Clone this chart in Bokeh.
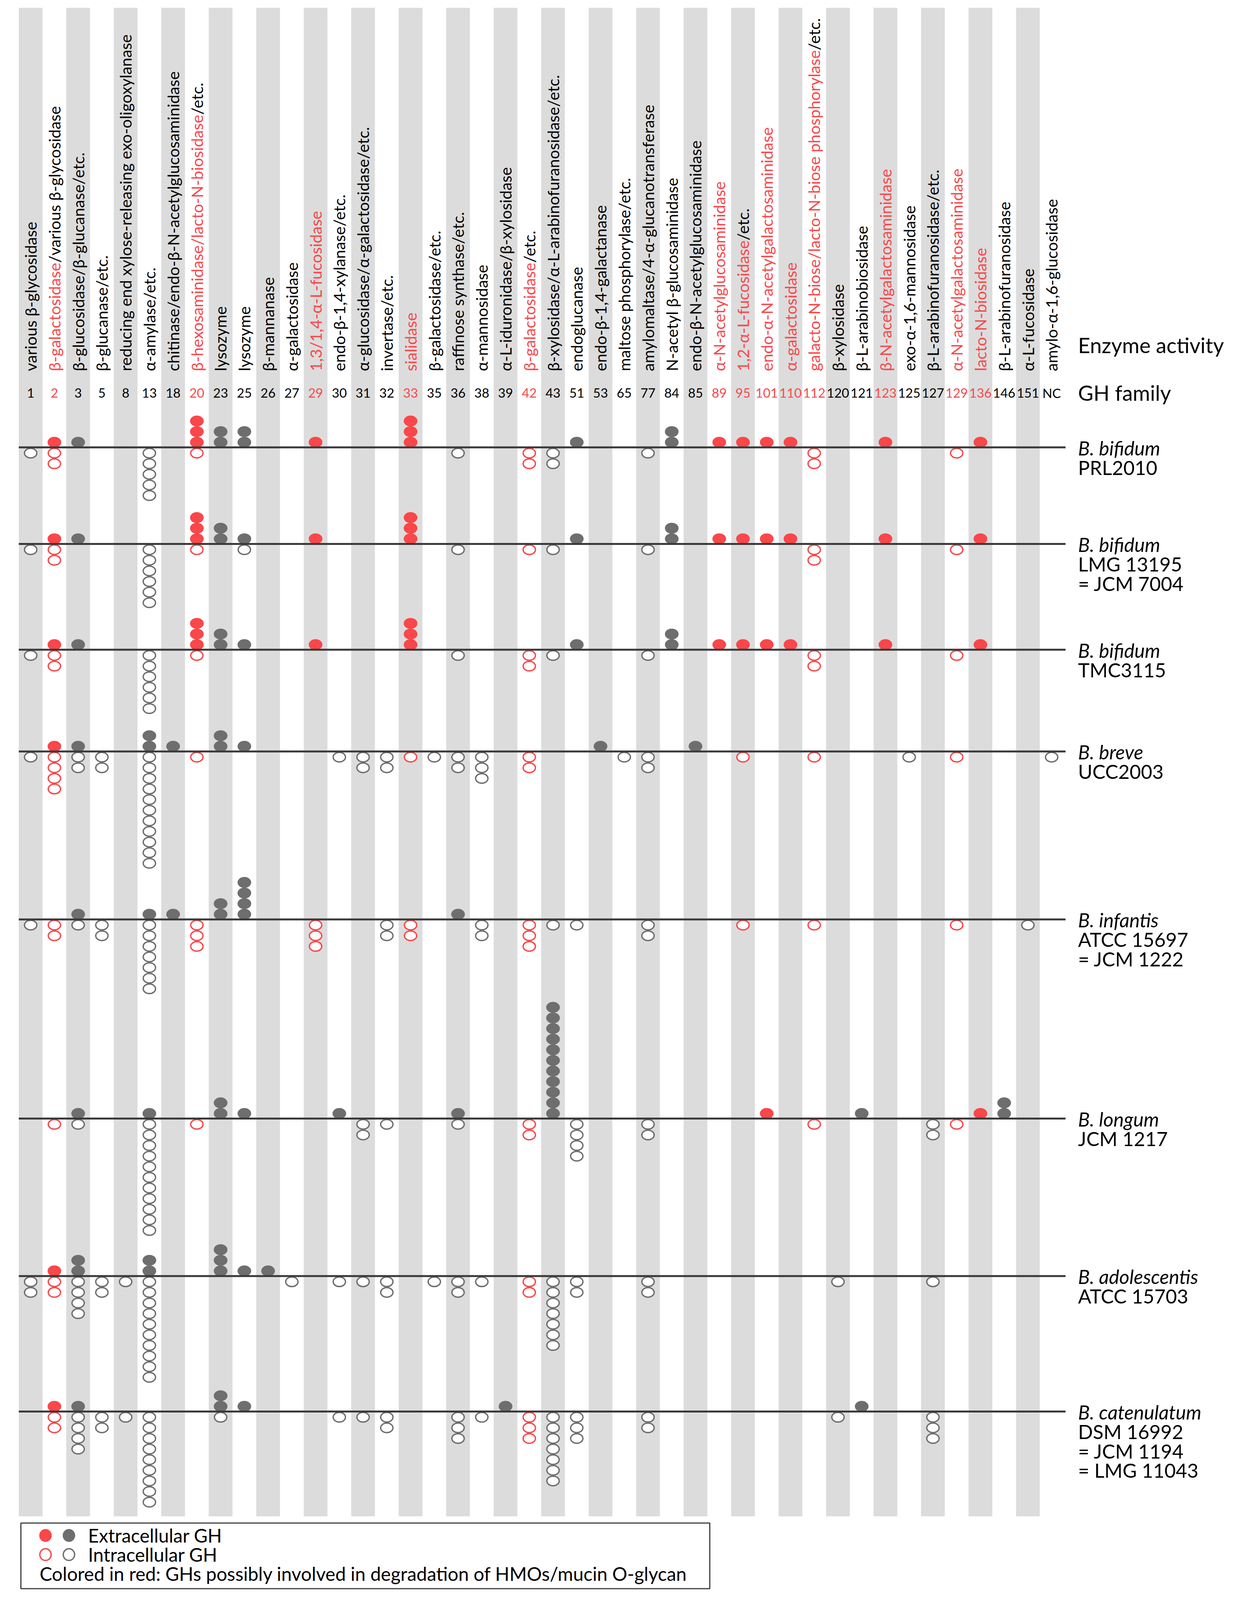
import math
from bokeh.plotting import figure
from bokeh.models import Range1d, ColumnDataSource, CustomJSTransform
from bokeh.transform import transform
from bokeh.core.properties import value
from bokeh.embed import file_html
from bokeh.resources import INLINE

# ---------------- data ----------------
GH = ["1", "2", "3", "5", "8", "13", "18", "20", "23", "25", "26", "27", "29", "30", "31",
      "32", "33", "35", "36", "38", "39", "42", "43", "51", "53", "65", "77", "84", "85",
      "89", "95", "101", "110", "112", "120", "121", "123", "125", "127", "129", "136",
      "146", "151", "NC"]

ACTIVITY = [
    "various β-glycosidase",
    "β-galactosidase/various β-glycosidase",
    "β-glucosidase/β-glucanase/etc.",
    "β-glucanase/etc.",
    "reducing end xylose-releasing exo-oligoxylanase",
    "α-amylase/etc.",
    "chitinase/endo-β-N-acetylglucosaminidase",
    "β-hexosaminidase/lacto-N-biosidase/etc.",
    "lysozyme",
    "lysozyme",
    "β-mannanase",
    "α-galactosidase",
    "1,3/1,4-α-L-fucosidase",
    "endo-β-1,4-xylanase/etc.",
    "α-glucosidase/α-galactosidase/etc.",
    "invertase/etc.",
    "sialidase",
    "β-galactosidase/etc.",
    "raffinose synthase/etc.",
    "α-mannosidase",
    "α-L-iduronidase/β-xylosidase",
    "β-galactosidase/etc.",
    "β-xylosidase/α-L-arabinofuranosidase/etc.",
    "endoglucanase",
    "endo-β-1,4-galactanase",
    "maltose phosphorylase/etc.",
    "amylomaltase/4-α-glucanotransferase",
    "N-acetyl β-glucosaminidase",
    "endo-β-N-acetylglucosaminidase",
    "α-N-acetylglucosaminidase",
    "1,2-α-L-fucosidase/etc.",
    "endo-α-N-acetylgalactosaminidase",
    "α-galactosidase",
    "galacto-N-biose/lacto-N-biose phosphorylase/etc.",
    "β-xylosidase",
    "β-L-arabinobiosidase",
    "β-N-acetylgalactosaminidase",
    "exo-α-1,6-mannosidase",
    "β-L-arabinofuranosidase/etc.",
    "α-N-acetylgalactosaminidase",
    "lacto-N-biosidase",
    "β-L-arabinofuranosidase",
    "α-L-fucosidase",
    "amylo-α-1,6-glucosidase",
]

# part of the activity label (from its start) that is coloured red
RED_PART = {
    "2": "β-galactosidase",
    "20": "β-hexosaminidase/lacto-N-biosidase",
    "29": "1,3/1,4-α-L-fucosidase",
    "33": "sialidase",
    "42": "β-galactosidase",
    "89": "α-N-acetylglucosaminidase",
    "95": "1,2-α-L-fucosidase",
    "101": "endo-α-N-acetylgalactosaminidase",
    "110": "α-galactosidase",
    "112": "galacto-N-biose/lacto-N-biose phosphorylase",
    "123": "β-N-acetylgalactosaminidase",
    "129": "α-N-acetylgalactosaminidase",
    "136": "lacto-N-biosidase",
}
RED_GH = list(RED_PART.keys())

SPECIES = ["B. bifidum", "B. bifidum", "B. bifidum", "B. breve", "B. infantis",
           "B. longum", "B. adolescentis", "B. catenulatum"]
STRAIN_IDS = [
    ["PRL2010"],
    ["LMG 13195", "= JCM 7004"],
    ["TMC3115"],
    ["UCC2003"],
    ["ATCC 15697", "= JCM 1222"],
    ["JCM 1217"],
    ["ATCC 15703"],
    ["DSM 16992", "= JCM 1194", "= LMG 11043"],
]

# number of GH genes: extracellular (filled) / intracellular (open)
prl2010_ext = {"2": 1, "3": 1, "20": 3, "23": 2, "25": 2, "29": 1, "33": 3, "51": 1, "84": 2,
               "89": 1, "95": 1, "101": 1, "110": 1, "123": 1, "136": 1}
prl2010_int = {"1": 1, "2": 2, "13": 5, "20": 1, "36": 1, "42": 2, "43": 2, "77": 1, "112": 2,
               "129": 1}
lmg13195_ext = {"2": 1, "3": 1, "20": 3, "23": 2, "25": 1, "29": 1, "33": 3, "51": 1, "84": 2,
                "89": 1, "95": 1, "101": 1, "110": 1, "123": 1, "136": 1}
lmg13195_int = {"1": 1, "2": 2, "13": 6, "20": 1, "25": 1, "36": 1, "42": 1, "43": 1, "77": 1,
                "112": 2, "129": 1}
tmc3115_ext = {"2": 1, "3": 1, "20": 3, "23": 2, "25": 1, "29": 1, "33": 3, "51": 1, "84": 2,
               "89": 1, "95": 1, "101": 1, "110": 1, "123": 1, "136": 1}
tmc3115_int = {"1": 1, "2": 2, "13": 6, "20": 1, "36": 1, "42": 2, "43": 1, "77": 1, "112": 2,
               "129": 1}
ucc2003_ext = {"2": 1, "3": 1, "13": 2, "18": 1, "23": 2, "25": 1, "53": 1, "85": 1}
ucc2003_int = {"1": 1, "2": 4, "3": 2, "5": 2, "13": 11, "20": 1, "30": 1, "31": 2, "32": 2,
               "33": 1, "35": 1, "36": 2, "38": 3, "42": 2, "65": 1, "77": 2, "95": 1, "112": 1,
               "125": 1, "129": 1, "NC": 1}
atcc15697_ext = {"3": 1, "13": 1, "18": 1, "23": 2, "25": 4, "36": 1}
atcc15697_int = {"1": 1, "2": 2, "3": 1, "5": 2, "13": 7, "20": 3, "29": 3, "32": 2, "33": 2,
                 "38": 2, "42": 3, "43": 1, "51": 1, "77": 2, "95": 1, "112": 1, "129": 1,
                 "151": 1}
jcm1217_ext = {"3": 1, "13": 1, "23": 2, "25": 1, "30": 1, "36": 1, "43": 11, "101": 1,
               "121": 1, "136": 1, "146": 2}
jcm1217_int = {"2": 1, "3": 1, "13": 11, "20": 1, "31": 2, "32": 1, "36": 1, "42": 2, "51": 4,
               "77": 2, "112": 1, "127": 2, "129": 1}
atcc15703_ext = {"2": 1, "3": 2, "13": 2, "23": 3, "25": 1, "26": 1}
atcc15703_int = {"1": 2, "2": 2, "3": 4, "5": 2, "8": 1, "13": 10, "27": 1, "30": 1, "31": 1,
                 "32": 2, "35": 1, "36": 2, "38": 1, "42": 2, "43": 7, "51": 2, "77": 2,
                 "120": 1, "127": 1}
dsm16992_ext = {"2": 1, "3": 1, "23": 2, "25": 1, "39": 1, "121": 1}
dsm16992_int = {"2": 2, "3": 4, "5": 2, "8": 1, "13": 9, "23": 1, "30": 1, "31": 1, "32": 2,
                "36": 3, "38": 1, "42": 3, "43": 7, "51": 3, "77": 2, "120": 1, "127": 3}

EXT = [prl2010_ext, lmg13195_ext, tmc3115_ext, ucc2003_ext, atcc15697_ext, jcm1217_ext,
       atcc15703_ext, dsm16992_ext]
INT = [prl2010_int, lmg13195_int, tmc3115_int, ucc2003_int, atcc15697_int, jcm1217_int,
       atcc15703_int, dsm16992_int]

LEGEND_TEXT = ["Extracellular GH", "Intracellular GH",
               "Colored in red: GHs possibly involved in degradation of HMOs/mucin O-glycan"]

# ---------------- layout / style ----------------
RED = "#F9474A"
GREY = "#6E6E6E"
STRIPE = "#DCDCDC"
RULE = "#3A3A3A"
FONT = "Lato"
W, H = 3172, 4078                # figure size in screen px
Y_SPAN = 4998                    # layout units spanned vertically
KY = H / Y_SPAN                  # screen px per vertical layout unit
X0, PITCH = 86.0, 60.8           # layout x of first column centre, column pitch
LINE_Y = [1411, 1714, 2046, 2365, 2892, 3517, 4011, 4436]
DOT_STEP = 33.3
DOT_W, DOT_H = 35.0, 28.0        # screen px
LABEL_BASE = 1172
LABEL_SIZE = 41
NUM_Y = 1240
LABEL_X = 2768


def cx(px):
    return (px - X0) / PITCH


p = figure(width=W, height=H, output_backend="svg", toolbar_location=None,
           x_range=Range1d(cx(8), cx(8 + W)), y_range=Range1d(8 + Y_SPAN, 8),
           x_axis_type=None, y_axis_type=None, min_border=0,
           background_fill_color="white", border_fill_color="white")
p.grid.visible = False
p.outline_line_color = None

ncol = len(GH)
idx = list(range(ncol))

# alternating stripes
gray_cols = [i for i in idx if i % 2 == 0]
p.quad(left=[i - 0.5 for i in gray_cols], right=[i + 0.5 for i in gray_cols],
       top=32, bottom=4765, fill_color=STRIPE, line_color=None)

# GH family numbers
p.text(x=idx, y=[NUM_Y] * ncol, text=GH,
       text_color=[RED if g in RED_GH else "black" for g in GH],
       text_font=value(FONT), text_font_size="33px", text_align="center",
       text_baseline="middle")
p.text(x=[cx(LABEL_X)] * 2, y=[NUM_Y, 1090], text=["GH family", "Enzyme activity"],
       text_font=value(FONT), text_font_size="54px", text_align="left",
       text_baseline="middle", text_color="black")

# activity labels (rotated): red prefix + black remainder
red_x, red_t = [], []
blk_x, blk_t, blk_pre = [], [], []
for i, (g, lab) in enumerate(zip(GH, ACTIVITY)):
    pre = RED_PART.get(g, "")
    if pre:
        red_x.append(i)
        red_t.append(pre)
    rest = lab[len(pre):]
    if rest:
        blk_x.append(i)
        blk_t.append(rest)
        blk_pre.append(pre)

p.text(x=red_x, y=[LABEL_BASE] * len(red_x), text=red_t, angle=math.pi / 2,
       text_color=RED, text_font=value(FONT), text_font_size=f"{LABEL_SIZE}px",
       text_align="left", text_baseline="middle")

blk_src = ColumnDataSource(dict(x=blk_x, text=blk_t, prefix=blk_pre,
                                base=[LABEL_BASE] * len(blk_x)))
measure = CustomJSTransform(args=dict(src=blk_src, font=f"{LABEL_SIZE}px {FONT}", ky=KY),
                            v_func="""
    const cv = document.createElement('canvas').getContext('2d');
    cv.font = font;
    const pre = src.data['prefix'];
    const out = new Array(xs.length);
    for (let i = 0; i < xs.length; i++) {
        out[i] = pre[i] ? xs[i] - cv.measureText(pre[i]).width / ky : xs[i];
    }
    return out;
""")
p.text(x="x", y=transform("base", measure), text="text", source=blk_src, angle=math.pi / 2,
       text_color="black", text_font=value(FONT), text_font_size=f"{LABEL_SIZE}px",
       text_align="left", text_baseline="middle")

# GH dots
fx, fy, fc, ox, oy, oc = [], [], [], [], [], []
for r, (ext, inn) in enumerate(zip(EXT, INT)):
    base = LINE_Y[r]
    for g, n in ext.items():
        c = GH.index(g)
        for k in range(n):
            fx.append(c)
            fy.append(base - 16 - DOT_STEP * k)
            fc.append(RED if g in RED_GH else GREY)
    for g, n in inn.items():
        c = GH.index(g)
        for k in range(n):
            ox.append(c)
            oy.append(base + 18 + DOT_STEP * k)
            oc.append(RED if g in RED_GH else GREY)

p.ellipse(x=fx, y=fy, width=DOT_W / PITCH, height=DOT_H / KY, fill_color=fc, line_color=None)
p.ellipse(x=ox, y=oy, width=(DOT_W - 3.5) / PITCH, height=(DOT_H - 3.5) / KY,
          fill_color="white", line_color=oc, line_width=3.5)

# strain rules and labels
p.segment(x0=[-0.5] * len(LINE_Y), x1=[cx(2736)] * len(LINE_Y), y0=LINE_Y, y1=LINE_Y,
          line_color=RULE, line_width=5)
p.text(x=[cx(LABEL_X)] * len(SPECIES), y=[y + 2 for y in LINE_Y], text=SPECIES,
       text_font=value(FONT), text_font_size="50px", text_font_style="italic",
       text_align="left", text_baseline="alphabetic", text_color="black")
sx, sy, st = [], [], []
for r, ids in enumerate(STRAIN_IDS):
    for k, s in enumerate(ids):
        sx.append(cx(LABEL_X))
        sy.append(LINE_Y[r] + 2 + 61 * (k + 1))
        st.append(s)
p.text(x=sx, y=sy, text=st, text_font=value(FONT), text_font_size="50px",
       text_align="left", text_baseline="alphabetic", text_color="black")

# legend box
p.quad(left=[cx(61)], right=[cx(1825)], top=[4786], bottom=[4992], fill_color="white",
       line_color="#404040", line_width=3)
p.ellipse(x=[cx(124), cx(184)], y=[4825, 4825], width=32 / PITCH, height=33 / KY,
          fill_color=[RED, GREY], line_color=None)
p.ellipse(x=[cx(124), cx(184)], y=[4885, 4885], width=29 / PITCH, height=30 / KY,
          fill_color="white", line_color=[RED, GREY], line_width=3.5)
p.text(x=[cx(233), cx(233), cx(109)], y=[4825, 4885, 4945], text=LEGEND_TEXT,
       text_font=value(FONT), text_font_size="48px", text_align="left",
       text_baseline="middle", text_color="black")

open("out.html", "w").write(file_html(p, INLINE))
